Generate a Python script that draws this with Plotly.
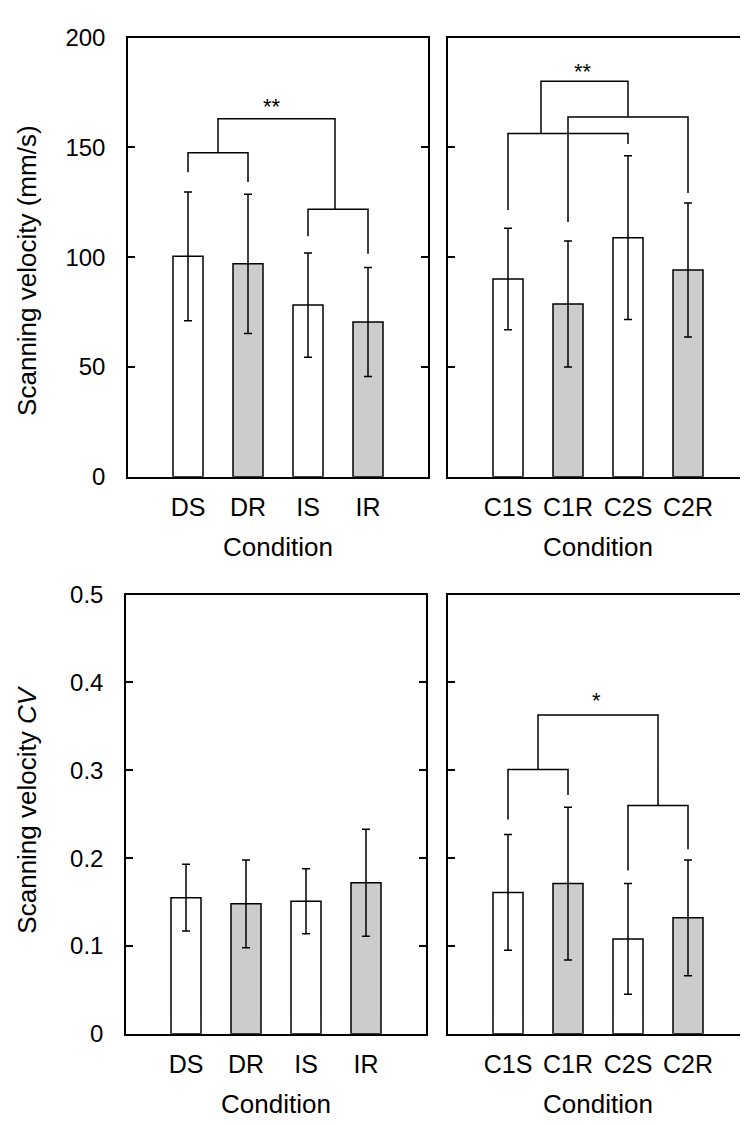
import plotly.graph_objects as go

# ---------------- data ----------------
cond_dir = ["DS", "DR", "IS", "IR"]
cond_c = ["C1S", "C1R", "C2S", "C2R"]

vel_dir = [100.4, 97.0, 78.2, 70.5]
vel_dir_sd = [29.3, 31.7, 23.7, 24.8]
vel_c = [90.1, 78.7, 108.9, 94.2]
vel_c_sd = [23.1, 28.7, 37.3, 30.5]

cv_dir = [0.155, 0.148, 0.151, 0.172]
cv_dir_sd = [0.038, 0.050, 0.037, 0.061]
cv_c = [0.161, 0.171, 0.108, 0.132]
cv_c_sd = [0.066, 0.087, 0.063, 0.066]

bar_colors = ["white", "#cccccc", "white", "#cccccc"]

# brackets: (x_left, x_right, y_top, y_left_end, y_right_end)
brk_vel_dir = [(0, 1, 147.6, 138.7, 134.2),
               (2, 3, 121.9, 109.6, 101.6),
               (0.5, 2.45, 163.1, 147.6, 121.9)]
brk_vel_c = [(0, 2, 156.3, 121.5, 151.6),
             (1, 3, 163.9, 116.0, 129.3),
             (0.55, 2.0, 180.1, 156.3, 163.9)]
brk_cv_c = [(0, 1, 0.301, 0.244, 0.272),
            (2, 3, 0.260, 0.186, 0.210),
            (0.5, 2.5, 0.363, 0.301, 0.260)]

# significance marks: (text, x, y)
sig_vel_dir = ("**", 1.4, 168.5)
sig_vel_c = ("**", 1.25, 184.5)
sig_cv_c = ("*", 1.47, 0.379)

# ---------------- layout geometry ----------------
W, H = 748, 1125
FONT = "Liberation Sans, Arial, sans-serif"
LW = 1.5

def px_x(a, b):
    return [a / W, b / W]

def px_y(top, bottom):
    return [1 - bottom / H, 1 - top / H]

panels = [
    ("x", "y", px_x(120, 420), px_y(16, 466), cond_dir, vel_dir, vel_dir_sd, [0, 200], 50, True, brk_vel_dir, sig_vel_dir),
    ("x2", "y2", px_x(440, 740), px_y(16, 466), cond_c, vel_c, vel_c_sd, [0, 200], 50, False, brk_vel_c, sig_vel_c),
    ("x3", "y3", px_x(118, 418), px_y(586.7, 1036.7), cond_dir, cv_dir, cv_dir_sd, [0, 0.5], 0.1, True, None, None),
    ("x4", "y4", px_x(440, 740), px_y(586.7, 1036.7), cond_c, cv_c, cv_c_sd, [0, 0.5], 0.1, False, brk_cv_c, sig_cv_c),
]

fig = go.Figure()
annotations = []
layout = dict(
    width=W, height=H,
    margin=dict(l=0, r=0, t=0, b=0),
    paper_bgcolor="white", plot_bgcolor="white",
    showlegend=False,
    font=dict(family=FONT, color="black"),
)

for i, (xa, ya, xd, yd, cats, vals, sds, yr, dt, showlab, brks, sig) in enumerate(panels):
    n = i + 1
    xname = "xaxis" if n == 1 else f"xaxis{n}"
    yname = "yaxis" if n == 1 else f"yaxis{n}"
    topname = f"xaxis{n + 4}"
    xs = list(range(len(cats)))

    fig.add_trace(go.Bar(
        x=xs, y=vals, width=0.5, xaxis=xa, yaxis=ya,
        marker=dict(color=bar_colors, line=dict(color="black", width=LW)),
        error_y=dict(type="data", array=sds, visible=True, color="black",
                     thickness=LW, width=4),
        hoverinfo="skip",
    ))

    if brks:
        for (xl, xr, yt, yle, yre) in brks:
            fig.add_trace(go.Scatter(
                x=[xl, xl, xr, xr], y=[yle, yt, yt, yre], mode="lines",
                line=dict(color="black", width=LW), xaxis=xa, yaxis=ya,
                hoverinfo="skip",
            ))
        annotations.append(dict(
            x=sig[1], y=sig[2], xref=xa, yref=ya,
            text=sig[0], showarrow=False, font=dict(size=22, family=FONT),
            xanchor="center", yanchor="middle",
        ))

    layout[xname] = dict(
        domain=xd, anchor=ya, range=[-1, 4],
        tickvals=xs, ticktext=cats, ticks="",
        showline=True, linecolor="black", linewidth=LW, mirror=True,
        showgrid=False, zeroline=False,
        tickfont=dict(size=25, family=FONT), ticklabelstandoff=7,
    )
    layout[topname] = dict(
        overlaying=xa, anchor=ya, side="top", range=[-1, 4],
        tickvals=xs, ticks="inside", ticklen=7, tickwidth=LW, tickcolor="black",
        showticklabels=False, showline=False, showgrid=False, zeroline=False,
    )
    layout[yname] = dict(
        domain=yd, anchor=xa, range=yr, dtick=dt,
        showline=True, linecolor="black", linewidth=LW, mirror="allticks",
        ticks="inside", ticklen=7, tickwidth=LW, tickcolor="black",
        showgrid=False, zeroline=False, showticklabels=showlab,
        tickfont=dict(size=24, family=FONT), ticklabelstandoff=16,
    )

# axis titles
for xc, yc in [(270, 537.5), (590, 537.5), (268, 1109), (590, 1109)]:
    annotations.append(dict(
        x=xc / W, y=1 - yc / H, xref="paper", yref="paper", text="Condition",
        showarrow=False, font=dict(size=26, family=FONT),
        xanchor="center", yanchor="middle",
    ))
annotations.append(dict(
    x=19 / W, y=1 - 255 / H, xref="paper", yref="paper",
    text="Scanning velocity (mm/s)", textangle=-90, showarrow=False,
    font=dict(size=26, family=FONT), xanchor="center", yanchor="middle",
))
annotations.append(dict(
    x=19 / W, y=1 - 807 / H, xref="paper", yref="paper",
    text="Scanning velocity <i>CV</i>", textangle=-90, showarrow=False,
    font=dict(size=26, family=FONT), xanchor="center", yanchor="middle",
))

layout["annotations"] = annotations
fig.update_layout(**layout)
fig.write_html("out.html")
